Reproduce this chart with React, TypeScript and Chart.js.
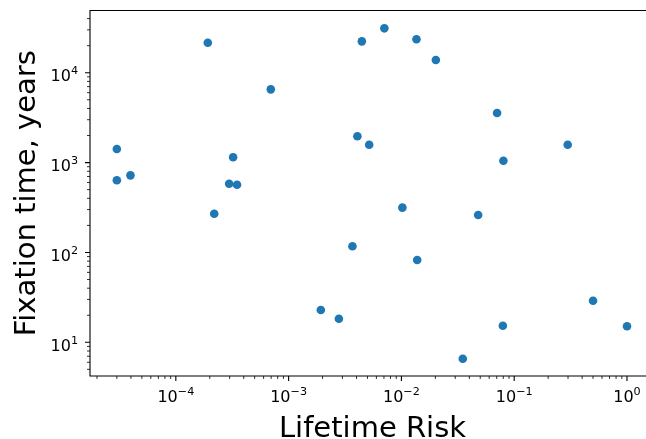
import React, { useEffect, useRef } from "react";
import { Chart, registerables } from "chart.js";

Chart.register(...registerables);

// ---- data ----
const lifetimeRisk = [
  3.0e-5, 3.0e-5, 3.96e-5, 1.92e-4, 6.95e-4, 3.22e-4, 2.97e-4, 3.49e-4,
  4.07e-3, 5.18e-3, 4.46e-3, 7.06e-3, 1.36e-2, 2.02e-2, 7.05e-2, 0.298,
  8.02e-2, 2.19e-4, 3.68e-3, 1.93e-3, 2.79e-3, 1.02e-2, 4.79e-2, 1.38e-2,
  0.5, 7.93e-2, 1.0, 3.5e-2,
];
const fixationYears = [
  1416, 635, 721, 21580, 6530, 1145, 582, 567,
  1960, 1581, 22340, 31190, 23550, 13840, 3563, 1581,
  1049, 270, 117, 22.9, 18.3, 315, 261, 82.4,
  29.0, 15.3, 15.1, 6.57,
];

const xMajorTicks = [1e-4, 1e-3, 1e-2, 1e-1, 1];
const xTickExponents = ["\u22124", "\u22123", "\u22122", "\u22121", "0"];
const yMajorTicks = [10, 100, 1000, 10000];
const yTickExponents = ["1", "2", "3", "4"];

const xTitle = "Lifetime Risk";
const yTitle = "Fixation time, years";

const X_MIN = 1.734e-5;
const X_MAX = 1.474;
const Y_MIN = 4.217;
const Y_MAX = 49250;

const FONT = "'DejaVu Sans', sans-serif";
const BASE_SIZE = 16;
const EXP_SIZE = 11.2;

function drawPow(ctx: CanvasRenderingContext2D, exp: string, x: number, baseline: number, align: "center" | "right") {
  ctx.textAlign = "left";
  ctx.textBaseline = "alphabetic";
  ctx.font = `${BASE_SIZE}px ${FONT}`;
  const wb = ctx.measureText("10").width;
  ctx.font = `${EXP_SIZE}px ${FONT}`;
  const we = ctx.measureText(exp).width;
  const total = wb + we;
  const start = align === "center" ? x - total / 2 : x - total;
  ctx.font = `${BASE_SIZE}px ${FONT}`;
  ctx.fillText("10", start, baseline);
  ctx.font = `${EXP_SIZE}px ${FONT}`;
  ctx.fillText(exp, start + wb, baseline - 7);
}

function minorValues(min: number, max: number): number[] {
  const out: number[] = [];
  const d0 = Math.floor(Math.log10(min));
  const d1 = Math.ceil(Math.log10(max));
  for (let d = d0; d <= d1; d++) {
    for (let m = 2; m <= 9; m++) {
      const v = m * Math.pow(10, d);
      if (v >= min && v <= max) out.push(v);
    }
  }
  return out;
}

const mplAxes = {
  id: "mplAxes",
  afterDraw(chart: any) {
    const { ctx, chartArea: a, scales } = chart;
    const xs = scales.x;
    const ys = scales.y;
    ctx.save();
    ctx.strokeStyle = "#000";
    ctx.fillStyle = "#000";

    // spines (left, bottom, top; right is cropped off)
    ctx.lineWidth = 1.1;
    ctx.beginPath();
    ctx.moveTo(a.right, a.top);
    ctx.lineTo(a.left, a.top);
    ctx.lineTo(a.left, a.bottom);
    ctx.lineTo(a.right, a.bottom);
    ctx.stroke();

    // minor ticks
    ctx.lineWidth = 0.8;
    ctx.beginPath();
    for (const v of minorValues(X_MIN, X_MAX)) {
      const px = xs.getPixelForValue(v);
      ctx.moveTo(px, a.bottom);
      ctx.lineTo(px, a.bottom + 3);
    }
    for (const v of minorValues(Y_MIN, Y_MAX)) {
      const py = ys.getPixelForValue(v);
      ctx.moveTo(a.left, py);
      ctx.lineTo(a.left - 3, py);
    }
    ctx.stroke();

    // major ticks
    ctx.lineWidth = 1.1;
    ctx.beginPath();
    for (const v of xMajorTicks) {
      const px = xs.getPixelForValue(v);
      ctx.moveTo(px, a.bottom);
      ctx.lineTo(px, a.bottom + 5);
    }
    for (const v of yMajorTicks) {
      const py = ys.getPixelForValue(v);
      ctx.moveTo(a.left, py);
      ctx.lineTo(a.left - 5, py);
    }
    ctx.stroke();

    // tick labels
    xMajorTicks.forEach((v, i) => {
      drawPow(ctx, xTickExponents[i], xs.getPixelForValue(v), a.bottom + 25.5, "center");
    });
    yMajorTicks.forEach((v, i) => {
      drawPow(ctx, yTickExponents[i], a.left - 12, ys.getPixelForValue(v) + 8.3, "right");
    });

    // axis titles
    ctx.font = `29px ${FONT}`;
    ctx.textAlign = "center";
    ctx.textBaseline = "alphabetic";
    ctx.fillText(xTitle, 372.5, 437);
    ctx.save();
    ctx.translate(35, (a.top + a.bottom) / 2);
    ctx.rotate(-Math.PI / 2);
    ctx.fillText(yTitle, 0, 0);
    ctx.restore();

    ctx.restore();
  },
};

export default function App() {
  const ref = useRef<HTMLCanvasElement>(null);

  useEffect(() => {
    if (!ref.current) return;
    const points = lifetimeRisk.map((x, i) => ({ x, y: fixationYears[i] }));
    const chart = new Chart(ref.current, {
      type: "scatter",
      data: {
        datasets: [
          {
            data: points,
            backgroundColor: "#1f77b4",
            borderWidth: 0,
            pointRadius: 4.3,
            pointHoverRadius: 4.3,
          },
        ],
      },
      options: {
        responsive: false,
        maintainAspectRatio: false,
        devicePixelRatio: 1,
        animation: false,
        events: [],
        layout: { autoPadding: false, padding: { left: 90, top: 10.5, right: 0, bottom: 63 } },
        plugins: { legend: { display: false }, tooltip: { enabled: false } },
        scales: {
          x: { type: "logarithmic", min: X_MIN, max: X_MAX, display: false },
          y: { type: "logarithmic", min: Y_MIN, max: Y_MAX, display: false },
        },
      },
      plugins: [mplAxes],
    });
    return () => chart.destroy();
  }, []);

  return (
    <div style={{ position: "absolute", left: 0, top: 0, width: 646, height: 439, background: "#fff" }}>
      <canvas ref={ref} width={646} height={439} style={{ display: "block", width: 646, height: 439 }} />
    </div>
  );
}
